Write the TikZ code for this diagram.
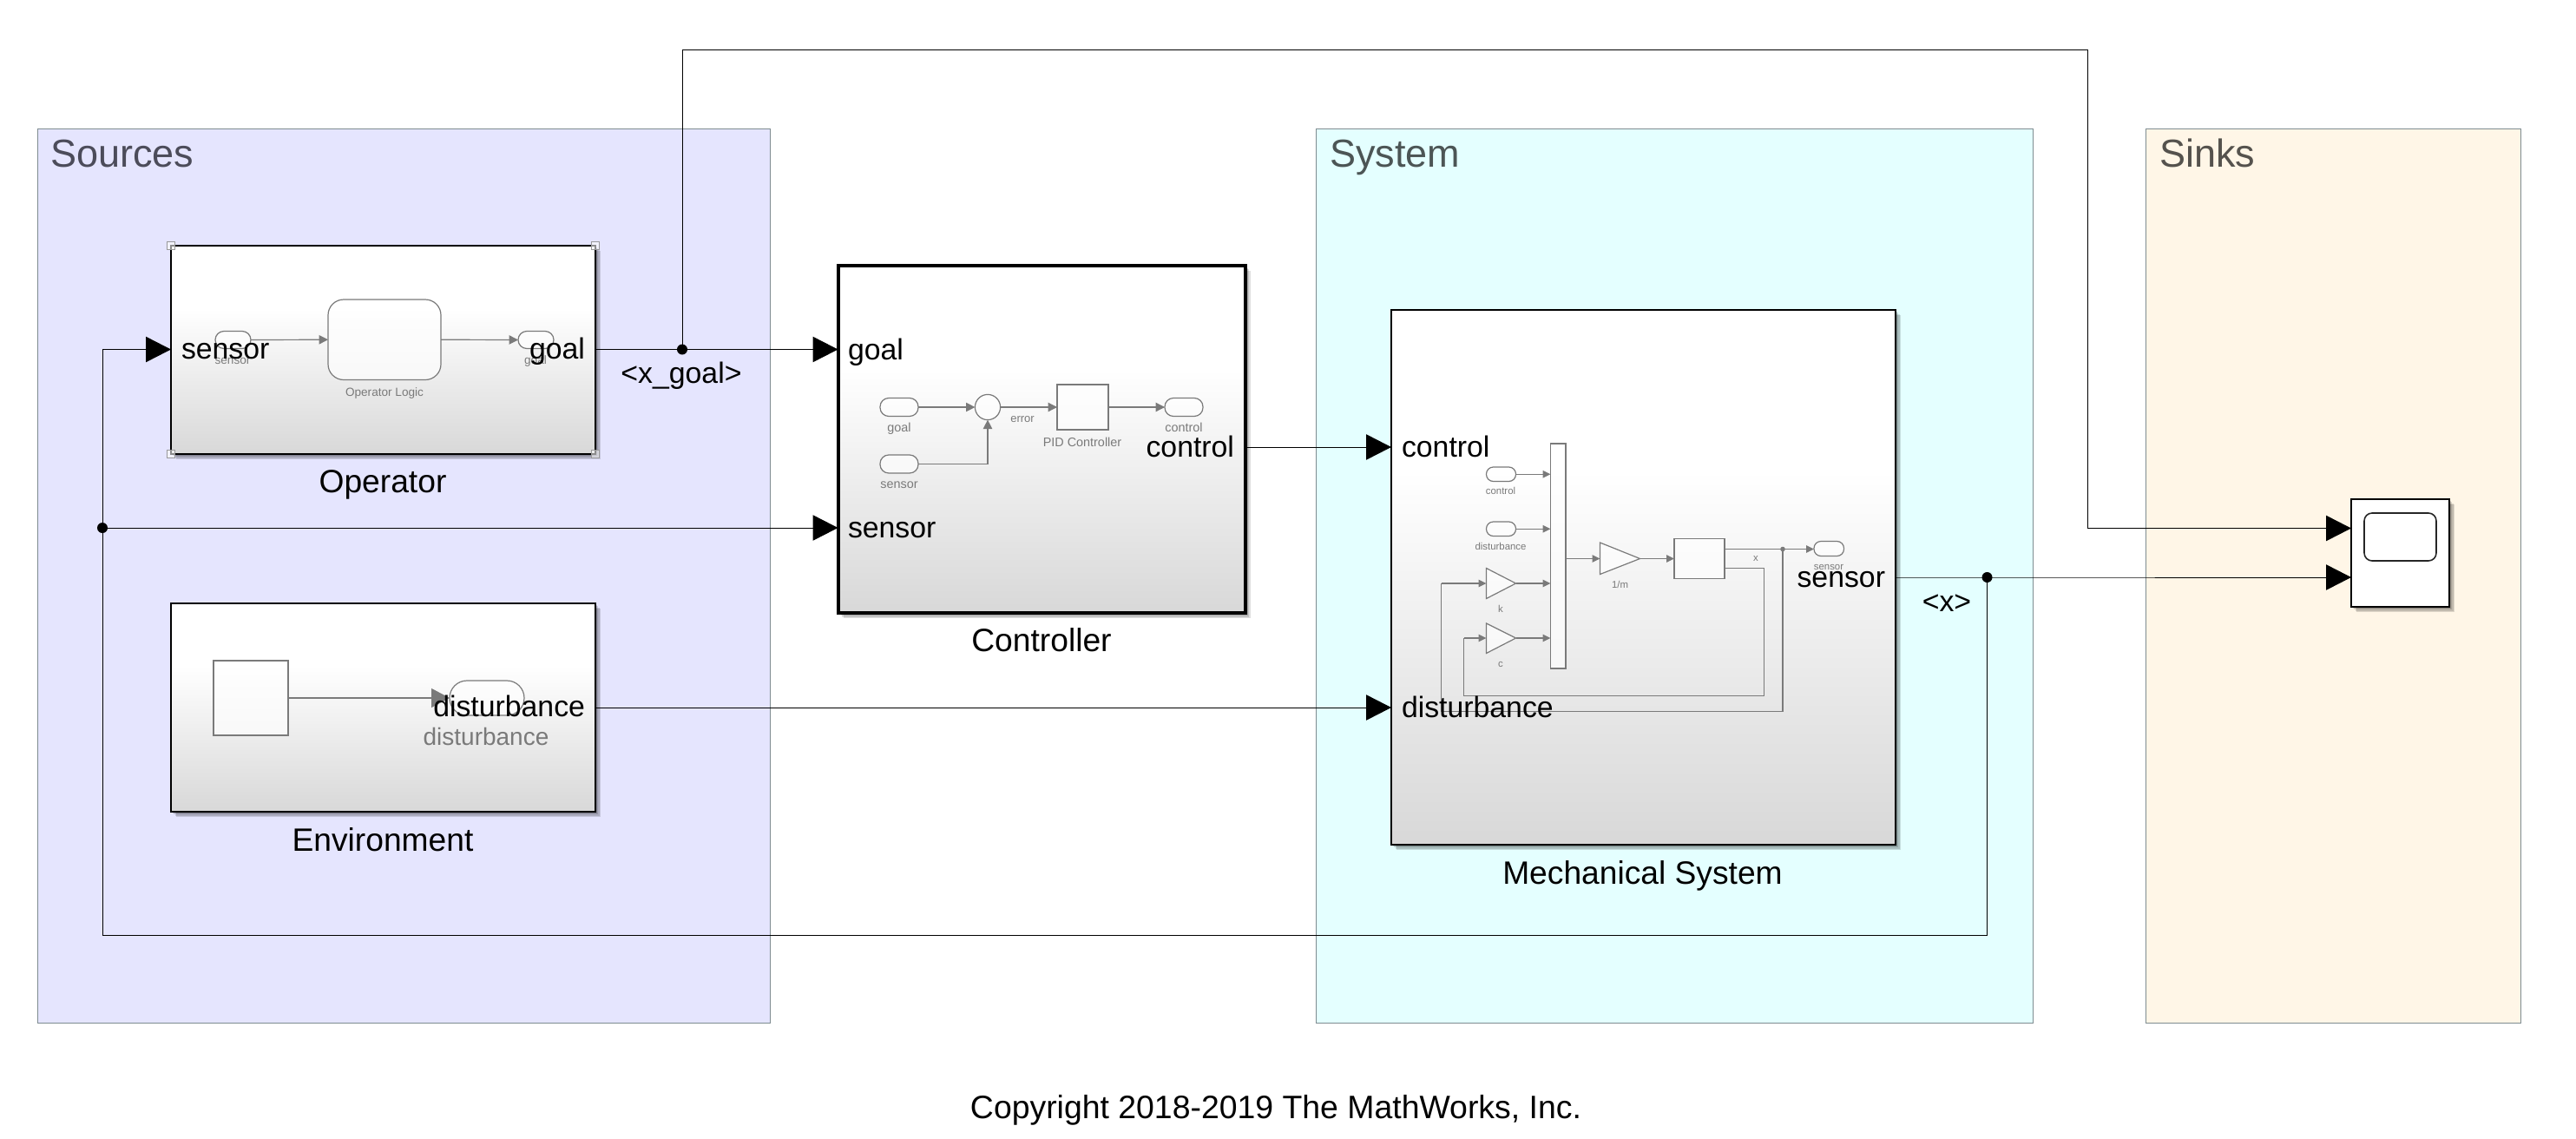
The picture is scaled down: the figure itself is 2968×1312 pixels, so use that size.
\documentclass[tikz,border=0pt]{standalone}
\usepackage{fontspec}
\setmainfont{Liberation Sans}
\usetikzlibrary{arrows.meta}
\definecolor{blockbot}{HTML}{D8D8D8}
\definecolor{blocktop}{HTML}{FFFFFF}
\definecolor{srcfill}{HTML}{E5E5FE}
\definecolor{sysfill}{HTML}{E4FFFF}
\definecolor{snkfill}{HTML}{FFF6E7}
\definecolor{panelline}{HTML}{7E8C90}
\definecolor{titlesrc}{HTML}{4C4C5A}
\definecolor{titlesys}{HTML}{4C5555}
\definecolor{titlesnk}{HTML}{55524D}
\definecolor{innergrey}{HTML}{7A7A7A}
\pgfdeclareverticalshading{blockgrad}{100bp}{color(0bp)=(blockbot); color(25bp)=(blockbot); color(60bp)=(blocktop); color(100bp)=(blocktop)}
\newcommand{\fs}[1]{\fontsize{#1pt}{#1pt}\selectfont}
% \rct{style}{name}{x1}{y1}{x2}{y2}: node filling the given pixel box
\newcommand{\rct}[6]{\node[#1,minimum width={((#5)-(#3))*0.5pt},minimum height={((#6)-(#4))*0.5pt}] (#2) at ({((#3)+(#5))/2},{((#4)+(#6))/2}) {};}
% soft shadow: stacked translucent rectangles, then the block
\newcommand{\blk}[6]{%
  \foreach \d in {1.5,3,4.5,6}{\fill[softshadow] ({(#3)+\d},{(#4)+\d}) rectangle ({(#5)+\d},{(#6)+\d});}%
  \rct{#1}{#2}{#3}{#4}{#5}{#6}}
\tikzset{
  x=0.5pt,y=-0.5pt,
  every node/.style={inner sep=0pt,outer sep=0pt},
  panel/.style={rectangle,draw=panelline,line width=0.5pt},
  paneltitle/.style={anchor=base west,font=\fs{22.5}},
  softshadow/.style={black,opacity=.13},
  blockbox/.style={rectangle,shading=blockgrad,shade,draw=black,line width=1.4pt},
  scopebox/.style={rectangle,fill=white,draw=black,line width=1.3pt},
  scopescreen/.style={rectangle,rounded corners=4.5pt,fill=white,draw=black!85,line width=0.8pt},
  sig/.style={draw=black,line width=0.5pt},
  sigarrow/.style={sig,-{Triangle[length=14.5pt,width=14.7pt]}},
  jdot/.style={circle,fill=black,minimum size=6pt},
  portlabel/.style={font=\fs{16.9},text=black},
  namelabel/.style={anchor=base,font=\fs{18.6},text=black},
  sublabel/.style={anchor=base,font=\fs{16.9},text=black},
  inner/.style={rectangle,draw=innergrey,line width=0.6pt,fill=white,fill opacity=.65},
  pill/.style={inner,rounded corners=5pt},
  pillbig/.style={inner,rounded corners=10pt},
  logicbox/.style={inner,rounded corners=9pt},
  isig/.style={draw=innergrey,line width=0.6pt},
  iarrow/.style={isig,-{Triangle[length=5.2pt,width=5.2pt]}},
  iarrowsmall/.style={isig,-{Triangle[length=4.4pt,width=4.2pt]}},
  iarrowbig/.style={isig,-{Triangle[length=10.5pt,width=11pt]}},
  idot/.style={circle,fill=innergrey,minimum size=2.8pt},
  handle/.style={rectangle,draw=black!40,line width=0.6pt,fill=white,fill opacity=.55,minimum size=4.8pt},
  tinyA/.style={anchor=mid,text=innergrey,font=\fs{6.8}},
  tinyB/.style={anchor=mid,text=innergrey,font=\fs{7.2}},
  tinyC/.style={anchor=mid,text=innergrey,font=\fs{5.7}},
}
\begin{document}
\begin{tikzpicture}
\useasboundingbox[fill=white] (0,0) rectangle (2968,1312);
% areas
\rct{panel,fill=srcfill}{sources}{43.5}{148}{887}{1178}
\rct{panel,fill=sysfill}{systempanel}{1516}{148}{2342}{1178}
\rct{panel,fill=snkfill}{sinks}{2472}{148}{2904}{1178}
\node[paneltitle,text=titlesrc] (tsources) at (58,192) {Sources};
\node[paneltitle,text=titlesys] (tsystem) at (1532,192) {System};
\node[paneltitle,text=titlesnk] (tsinks) at (2488,192) {Sinks};
% ports and bends
\coordinate (opin) at (197,402.5);
\coordinate (opout) at (686,402.5);
\coordinate (ctlgoal) at (965.5,402.5);
\coordinate (ctlsensor) at (965.5,608);
\coordinate (ctlout) at (1434.5,515);
\coordinate (mechctl) at (1603,515);
\coordinate (mechdist) at (1603,815);
\coordinate (envout) at (686,815);
\coordinate (mechout) at (2184,665);
\coordinate (scopetop) at (2709,608.5);
\coordinate (scopebot) at (2709,665);
\coordinate (topleft) at (786,57);
\coordinate (topright) at (2405,57);
\coordinate (topdown) at (2405,608.5);
\coordinate (botright) at (2289.5,1077);
\coordinate (botleft) at (118,1077);
\coordinate (leftup) at (118,402.5);
\node[jdot] (jgoal) at (786,402.5) {};
\node[jdot] (jx) at (2289.5,665) {};
\node[jdot] (jfb) at (118,608) {};
% connectors
\draw[sigarrow] (opout) -- (jgoal.center) -- (ctlgoal);
\draw[sig] (jgoal.center) -- (topleft) -- (topright) -- (topdown);
\draw[sigarrow] (topdown) -- (scopetop);
\draw[sigarrow] (ctlout) -- (mechctl);
\draw[sigarrow] (envout) -- (mechdist);
\draw[sigarrow] (mechout) -- (jx.center) -- (scopebot);
\draw[sig] (jx.center) -- (botright) -- (botleft) -- (jfb.center);
\draw[sigarrow] (jfb.center) -- (leftup) -- (opin);
\draw[sigarrow] (jfb.center) -- (ctlsensor);
% blocks
\blk{blockbox}{operator}{197}{283}{686}{523}
\blk{blockbox}{environment}{197}{695}{686}{935}
\blk{blockbox,line width=2pt}{controller}{965.5}{305.5}{1434.5}{706}
\blk{blockbox,line width=1.2pt}{mech}{1603}{357}{2184}{973}
\blk{scopebox}{scope}{2709}{575}{2822}{699}
\rct{scopescreen}{screen}{2724}{591}{2807}{646}
% --- Operator inside
\rct{pill}{opsens}{248}{381.5}{289}{401.5}
\rct{logicbox}{oplogic}{378}{345}{508}{437.5}
\rct{pill}{opgoal}{597}{381.5}{638}{401.5}
\draw[iarrow] (opsens.east) -- (oplogic.west);
\draw[iarrow] (oplogic.east) -- (opgoal.west);
\node[tinyA] (lopsens) at (268,414) {sensor};
\node[tinyA] (lopgoal) at (617,414) {goal};
\node[tinyB,font=\fs{6.8}] (loplogic) at (443,451) {Operator Logic};
\node[handle] (h1) at (197,283) {};
\node[handle] (h2) at (686,283) {};
\node[handle] (h3) at (197,523) {};
\node[handle] (h4) at (686,523) {};
% --- Environment inside
\rct{inner}{envsrc}{246}{761}{332}{847}
\rct{pillbig}{envpill}{518}{784}{604}{824}
\draw[iarrowbig] (envsrc.east) -- (envsrc.east -| envpill.west);
\node[anchor=mid,text=innergrey,font=\fs{14}] (lenv) at (560,853) {disturbance};
% --- Controller inside
\rct{pill}{cgoal}{1014}{458.5}{1058}{479.5}
\rct{pill}{csens}{1014}{524}{1058}{545}
\node[inner,circle,minimum size=14.6pt] (csum) at (1138,469) {};
\rct{inner}{cpid}{1218}{443}{1277}{495}
\rct{pill}{cctl}{1342}{458.5}{1386}{479.5}
\draw[iarrow] (cgoal.east) -- (csum.west);
\draw[iarrow] (csens.east) -| (csum.south);
\draw[iarrow] (csum.east) -- (cpid.west);
\draw[iarrow] (cpid.east) -- (cctl.west);
\node[tinyB] (lcgoal) at (1036,492) {goal};
\node[tinyB] (lcsens) at (1036,557) {sensor};
\node[tinyB,font=\fs{6.5}] (lcerr) at (1178,481) {error};
\node[tinyB] (lcpid) at (1247,509) {PID Controller};
\node[tinyB] (lcctl) at (1364,492) {control};
% --- Mechanical inside
\rct{inner}{mmux}{1786.5}{511}{1804}{770}
\rct{pill,rounded corners=4pt}{mctl}{1712.5}{538}{1746.5}{554.5}
\rct{pill,rounded corners=4pt}{mdist}{1712.5}{601}{1746.5}{617.5}
\rct{inner}{mint}{1929}{620.5}{1987}{666.5}
\rct{pill,rounded corners=4pt}{msens}{2090}{623.5}{2124.5}{640.5}
\filldraw[inner] (1712.5,654.5) -- (1746.5,672) -- (1712.5,689.5) -- cycle;
\filldraw[inner] (1712.5,718) -- (1746.5,735) -- (1712.5,752.5) -- cycle;
\filldraw[inner] (1843.5,625) -- (1889.5,643.5) -- (1843.5,661.5) -- cycle;
\coordinate (kin) at (1712.5,672);
\coordinate (kout) at (1746.5,672);
\coordinate (cin) at (1712.5,735);
\coordinate (cout) at (1746.5,735);
\coordinate (gin) at (1843.5,643.5);
\coordinate (gout) at (1889.5,643.5);
\coordinate (xout) at (1987,632.5);
\coordinate (vout) at (1987,654.5);
\node[idot] (mdot) at (2054,632.5) {};
\coordinate (vr) at (2032.5,654.5);
\coordinate (vb) at (2032.5,801.5);
\coordinate (vl) at (1686.5,801.5);
\coordinate (vc) at (1686.5,735);
\coordinate (xb) at (2054,819.5);
\coordinate (xl) at (1660.5,819.5);
\coordinate (xk) at (1660.5,672);
\draw[iarrowsmall] (mctl.east) -- (mctl.east -| mmux.west);
\draw[iarrowsmall] (mdist.east) -- (mdist.east -| mmux.west);
\draw[iarrowsmall] (kout) -- (kout -| mmux.west);
\draw[iarrowsmall] (cout) -- (cout -| mmux.west);
\draw[iarrowsmall] (mmux.east |- gin) -- (gin);
\draw[iarrowsmall] (gout) -- (gout -| mint.west);
\draw[isig] (xout) -- (mdot.center);
\draw[iarrowsmall] (mdot.center) -- (mdot.center -| msens.west);
\draw[isig] (vout) -- (vr) -- (vb) -- (vl) -- (vc);
\draw[iarrowsmall] (vc) -- (cin);
\draw[isig] (mdot.center) -- (xb) -- (xl) -- (xk);
\draw[iarrowsmall] (xk) -- (kin);
\node[tinyC] (lmctl) at (1729,564) {control};
\node[tinyC] (lmdist) at (1729,628) {disturbance};
\node[tinyC] (lmk) at (1729,700) {k};
\node[tinyC] (lmc) at (1729,763) {c};
\node[tinyC] (lmg) at (1866.5,672) {1/m};
\node[tinyC] (lmx) at (2023,641) {x};
\node[tinyC] (lms) at (2107,651) {sensor};
% --- port labels
\node[portlabel,anchor=base west] (l1) at (209,413.5) {sensor};
\node[portlabel,anchor=base east] (l2) at (674,413.5) {goal};
\node[portlabel,anchor=base east] (l3) at (674,825.5) {disturbance};
\node[portlabel,anchor=base west] (l4) at (977,414) {goal};
\node[portlabel,anchor=base west] (l5) at (977,619) {sensor};
\node[portlabel,anchor=base east] (l6) at (1422,526) {control};
\node[portlabel,anchor=base west] (l7) at (1615,526) {control};
\node[portlabel,anchor=base west] (l8) at (1615,826) {disturbance};
\node[portlabel,anchor=base east] (l9) at (2172,676.5) {sensor};
% --- names and line labels
\node[namelabel] (nop) at (441,567) {Operator};
\node[namelabel] (nenv) at (441,980) {Environment};
\node[namelabel] (nctl) at (1200,750) {Controller};
\node[namelabel] (nmech) at (1892.5,1018) {Mechanical System};
\node[sublabel] (lxgoal) at (785,441) {<x\_goal>};
\node[sublabel] (lx) at (2243,704) {<x>};
\node[anchor=base,font=\fs{18.7},text=black] (copy) at (1470,1288) {Copyright 2018-2019 The MathWorks, Inc.};
\end{tikzpicture}
\end{document}
